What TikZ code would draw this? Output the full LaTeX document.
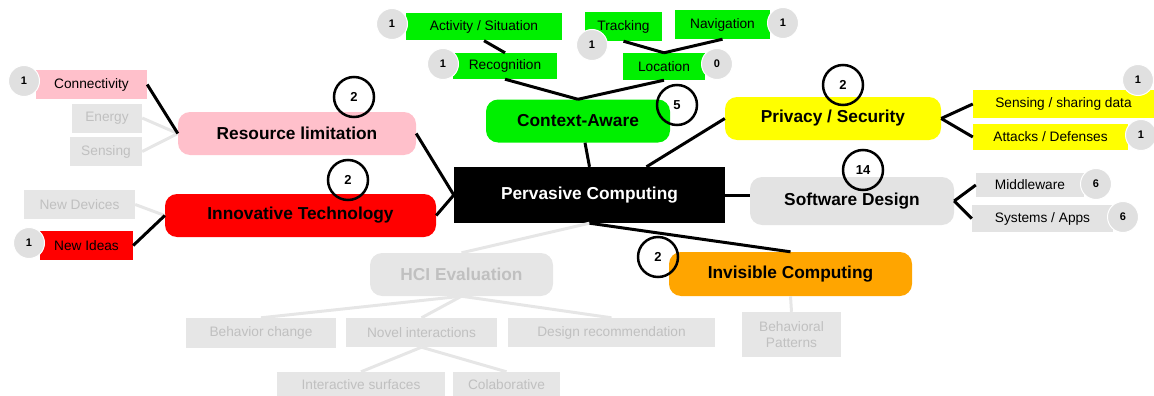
\documentclass[tikz,border=0pt]{standalone}
\usepackage{fontspec}
\setmainfont{Liberation Sans}

\definecolor{pinkfill}{RGB}{255,192,203}
\definecolor{redfill}{RGB}{255,0,0}
\definecolor{greenfill}{RGB}{0,240,0}
\definecolor{yellowfill}{RGB}{255,255,0}
\definecolor{orangefill}{RGB}{255,165,0}
\definecolor{greyfill}{RGB}{227,227,227}
\definecolor{palefill}{RGB}{230,230,230}
\definecolor{paletext}{RGB}{192,192,192}
\definecolor{tallyfill}{RGB}{224,224,224}

\tikzset{
    topic/.style={rounded corners=12pt, inner sep=0pt, font=\fontsize{17.3}{19}\selectfont\bfseries},
    leaf/.style={inner sep=0pt, font=\fontsize{13.7}{16}\selectfont},
    pale/.style={fill=palefill, text=paletext},
    countring/.style={circle, draw=black, line width=2.5pt, minimum size=40pt, inner sep=0pt,
        font=\fontsize{13}{15}\selectfont\bfseries},
    tally/.style={circle, fill=tallyfill, draw=white, line width=1pt, minimum size=31pt, inner sep=0pt,
        font=\fontsize{11}{13}\selectfont\bfseries},
    link/.style={line width=3pt, black},
    palelink/.style={line width=3pt, palefill}
}

\begin{document}
\begin{tikzpicture}[x=1pt, y=-1pt]
        \useasboundingbox (0,0) rectangle (1154,396);
        % centre
        \node[fill=black, text=white, minimum width=271pt, minimum height=56pt, inner sep=0pt,
            font=\fontsize{17.3}{19}\selectfont\bfseries] (pc) at (589.5,195) {Pervasive Computing};
        % main topics
        \node[topic, fill=pinkfill, minimum width=238pt, minimum height=43pt] (rl) at (297,133.5) {Resource limitation};
        \node[topic, fill=redfill, minimum width=271pt, minimum height=43pt] (it) at (300.5,215.5) {Innovative Technology};
        \node[topic, fill=greenfill, minimum width=184pt, minimum height=43pt] (ca) at (578,121) {Context-Aware};
        \node[topic, fill=yellowfill, minimum width=216pt, minimum height=43pt] (ps) at (833,118.5) {Privacy / Security};
        \node[topic, fill=greyfill, minimum width=204pt, minimum height=48pt] (sd) at (852,201) {Software Design};
        \node[topic, fill=orangefill, minimum width=243pt, minimum height=44pt] (ic) at (790.5,274) {Invisible Computing};
        \node[topic, pale, minimum width=183pt, minimum height=43pt] (hci) at (461.5,274.5) {HCI Evaluation};

        % resource limitation leaves
        \node[leaf, fill=pinkfill, minimum width=111pt, minimum height=29pt] (conn) at (91.5,84.5) {Connectivity};
        \node[leaf, pale, minimum width=70pt, minimum height=29pt] (energy) at (107,118) {Energy};
        \node[leaf, pale, minimum width=72pt, minimum height=29pt] (sens) at (106,151.5) {Sensing};
        % innovative technology leaves
        \node[leaf, pale, minimum width=111pt, minimum height=29pt] (newdev) at (79.5,204.5) {New Devices};
        \node[leaf, fill=redfill, minimum width=93pt, minimum height=29pt] (newidea) at (86.5,245.5) {New Ideas};
        % context aware leaves
        \node[leaf, fill=greenfill, minimum width=156pt, minimum height=27pt] (act) at (484,27) {Activity / Situation};
        \node[leaf, fill=greenfill, minimum width=104pt, minimum height=26pt] (recog) at (505,66) {Recognition};
        \node[leaf, fill=greenfill, minimum width=77pt, minimum height=29pt] (track) at (623.5,26.5) {Tracking};
        \node[leaf, fill=greenfill, minimum width=95pt, minimum height=29pt] (nav) at (722.5,24.5) {Navigation};
        \node[leaf, fill=greenfill, minimum width=82pt, minimum height=27pt] (loc) at (664,66.5) {Location};
        % privacy leaves
        \node[leaf, fill=yellowfill, minimum width=181pt, minimum height=28pt] (share) at (1063.5,104) {Sensing / sharing data};
        \node[leaf, fill=yellowfill, minimum width=155pt, minimum height=26pt] (attack) at (1050.5,137) {Attacks / Defenses};
        % software design leaves
        \node[leaf, fill=greyfill, minimum width=108pt, minimum height=24pt] (mid) at (1030,185) {Middleware};
        \node[leaf, fill=greyfill, minimum width=141pt, minimum height=27pt] (sys) at (1042.5,218.5) {Systems / Apps};
        % invisible computing leaf
        \node[leaf, pale, minimum width=99pt, minimum height=45pt, align=center] (behav) at (791.5,334.5) {Behavioral\\Patterns};
        % hci leaves
        \node[leaf, pale, minimum width=150pt, minimum height=30pt] (beh) at (261,333) {Behavior change};
        \node[leaf, pale, minimum width=151pt, minimum height=29pt] (novel) at (421.5,332.5) {Novel interactions};
        \node[leaf, pale, minimum width=207pt, minimum height=29pt] (design) at (611.5,332.5) {Design recommendation};
        \node[leaf, pale, minimum width=168pt, minimum height=25pt] (inter) at (361,384.5) {Interactive surfaces};
        \node[leaf, pale, minimum width=107pt, minimum height=25pt] (colab) at (506.5,384.5) {Colaborative};

        % faded connectors
        \draw[palelink] (energy.east) -- (rl.west);
        \draw[palelink] (sens.east) -- (rl.west);
        \draw[palelink] (newdev.east) -- (it.west);
        \draw[palelink] (pc.south) -- (hci.north);
        \draw[palelink] (hci.south) -- (beh.north);
        \draw[palelink] (hci.south) -- (novel.north);
        \draw[palelink] (hci.south) -- (design.north);
        \draw[palelink] (novel.south) -- (inter.north);
        \draw[palelink] (novel.south) -- (colab.north);
        \draw[palelink] (ic.south) -- (behav.north);

        % black connectors
        \draw[link] (rl.east) -- (pc.west);
        \draw[link] (it.east) -- (pc.west);
        \draw[link] ([xshift=7pt]ca.south) -- (pc.north);
        \draw[link] (ps.west) -- ([xshift=57pt]pc.north);
        \draw[link] (pc.east) -- (pc.east -| sd.west);
        \draw[link] (pc.south) -- (ic.north);
        \draw[link] (conn.east) -- (rl.west);
        \draw[link] (newidea.east) -- (it.west);
        \draw[link] (act.south) -- (recog.north);
        \draw[link] (recog.south) -- (ca.north);
        \draw[link] (track.south) -- (loc.north);
        \draw[link] (nav.south) -- (loc.north);
        \draw[link] (loc.south) -- (ca.north);
        \draw[link] (ps.east) -- (share.west);
        \draw[link] (ps.east) -- (attack.west);
        \draw[link] (sd.east) -- (mid.west);
        \draw[link] (sd.east) -- (sys.west);

        % paper counts
        \node[countring] (n-rl) at (354,97) {2};
        \node[countring] (n-it) at (348,180) {2};
        \node[countring] (n-ca) at (677,105) {5};
        \node[countring] (n-ps) at (843,85) {2};
        \node[countring] (n-sd) at (863,170) {14};
        \node[countring] (n-ic) at (658,257) {2};
        \node[tally] (t-conn) at (24,81) {1};
        \node[tally] (t-idea) at (29,243) {1};
        \node[tally] (t-act) at (392,24) {1};
        \node[tally] (t-recog) at (443,64) {1};
        \node[tally] (t-track) at (592,45) {1};
        \node[tally] (t-nav) at (783,23) {1};
        \node[tally] (t-loc) at (717,64) {0};
        \node[tally] (t-share) at (1138,80) {1};
        \node[tally] (t-attack) at (1141,135) {1};
        \node[tally] (t-mid) at (1096,184) {6};
        \node[tally] (t-sys) at (1123,217) {6};
    \end{tikzpicture}
\end{document}
